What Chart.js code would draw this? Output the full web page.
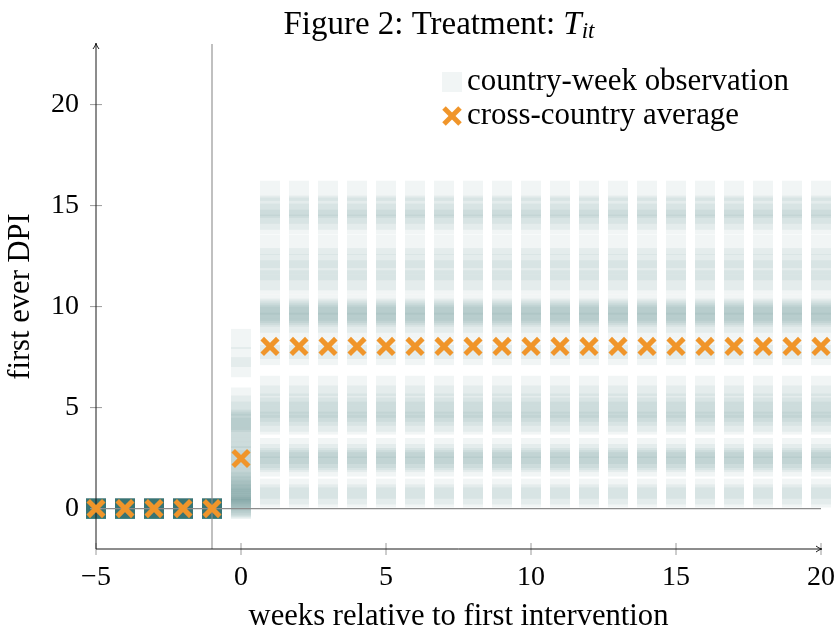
<!DOCTYPE html>
<html>
<head>
<meta charset="utf-8">
<script src="https://cdn.jsdelivr.net/npm/chart.js@4.4.1/dist/chart.umd.min.js"></script>
<style>html,body{margin:0;padding:0;background:#fff;}canvas{display:block;}</style>
</head>
<body>
<canvas id="c" width="837" height="630"></canvas>
<script>
// ---- data ----
const weeks = [-5,-4,-3,-2,-1,0,1,2,3,4,5,6,7,8,9,10,11,12,13,14,15,16,17,18,19,20];
// 39 countries; before the first intervention every country is at 0
const preValues = [0,0,0,0,0,0,0,0,0,0,0,0,0,0,0,0,0,0,0,0,0,0,0,0,0,0,0,0,0,0,0,0,0,0,0,0,0,0,0];
// week of first intervention (partial week)
const week0Values = [8.4,7.5,7.0,5.5,5.1,4.8,4.5,4.4,4.3,4.2,4.0,3.8,3.5,3.2,3.0,2.8,2.6,2.4,2.2,2.0,1.8,1.6,1.4,1.3,1.2,1.1,1.0,0.9,0.8,0.7,0.6,0.5,0.4,0.3,0.2,0.1,0.1,0.0,0.0];
// weeks 1..20 (value of the first ever DPI, constant afterwards)
const postValues = [15.74,15.0,14.9,14.6,14.3,14.06,13.05,12.4,12.1,11.8,11.3,11.1,10.1,9.9,9.8,9.7,9.6,9.5,9.2,8.9,7.9,7.6,6.08,5.6,5.2,5.0,4.8,4.6,4.3,4.16,3.0,2.7,2.5,2.4,2.3,2.08,0.99,0.7,0.55];
// cross-country average per week
const avgValues = [0,0,0,0,0,2.48,8.03,8.03,8.03,8.03,8.03,8.03,8.03,8.03,8.03,8.03,8.03,8.03,8.03,8.03,8.03,8.03,8.03,8.03,8.03,8.03];
const xTicks = [-5,0,5,10,15,20];
const yTicks = [0,5,10,15,20];
const titleMain = 'Figure 2: Treatment: ';
const xTitle = 'weeks relative to first intervention';
const yTitle = 'first ever DPI';
const legendLabels = ['country-week observation','cross-country average'];

// ---- build points ----
function valuesForWeek(w){ return w < 0 ? preValues : (w === 0 ? week0Values : postValues); }
const obsPoints = [];
weeks.forEach(w => valuesForWeek(w).forEach(v => obsPoints.push({x: w, y: v})));
const avgPoints = weeks.map((w, i) => ({x: w, y: avgValues[i]}));

const SERIF = "'Liberation Serif', 'DejaVu Serif', serif";
const OBS_COLOR = 'rgba(40,100,100,0.065)';
const AVG_COLOR = '#f0952a';
const fmt = v => v < 0 ? '\u2212' + Math.abs(v) : String(v);

function line(ctx, x1, y1, x2, y2){ ctx.beginPath(); ctx.moveTo(x1, y1); ctx.lineTo(x2, y2); ctx.stroke(); }
function fitSize(ctx, text, target, style){
  ctx.font = (style ? style + ' ' : '') + '100px ' + SERIF;
  return 100 * target / ctx.measureText(text).width;
}

const deco = {
  id: 'deco',
  beforeDatasetDraw(chart, args){
    if (args.index !== 1) return;
    const ctx = chart.ctx, a = chart.chartArea, x = chart.scales.x, y = chart.scales.y;
    ctx.save();
    ctx.lineCap = 'butt';
    // zero line and intervention line
    ctx.strokeStyle = '#8c8c8c'; ctx.lineWidth = 1.1;
    const y0 = y.getPixelForValue(0);
    line(ctx, x.getPixelForValue(-5), y0, x.getPixelForValue(20), y0);
    const xm = x.getPixelForValue(-1);
    line(ctx, xm, a.top, xm, a.bottom);
    // tick marks
    ctx.strokeStyle = '#9a9a9a'; ctx.lineWidth = 1;
    yTicks.forEach(v => { const p = y.getPixelForValue(v); line(ctx, a.left - 6, p, a.left + 6, p); });
    xTicks.forEach(v => { const p = x.getPixelForValue(v); line(ctx, p, a.bottom - 6, p, a.bottom + 6); });
    // axes with arrows
    ctx.strokeStyle = '#1a1a1a'; ctx.lineWidth = 1;
    line(ctx, a.left, a.bottom, a.left, a.top);
    line(ctx, a.left, a.bottom, a.right, a.bottom);
    ctx.beginPath();
    ctx.moveTo(a.left - 3, a.top + 5); ctx.quadraticCurveTo(a.left - 0.5, a.top + 2, a.left, a.top - 1);
    ctx.quadraticCurveTo(a.left + 0.5, a.top + 2, a.left + 3, a.top + 5);
    ctx.stroke();
    ctx.beginPath();
    ctx.moveTo(a.right - 5, a.bottom - 3); ctx.quadraticCurveTo(a.right - 2, a.bottom - 0.5, a.right + 1, a.bottom);
    ctx.quadraticCurveTo(a.right - 2, a.bottom + 0.5, a.right - 5, a.bottom + 3);
    ctx.stroke();
    ctx.restore();
  },
  afterDraw(chart){
    const ctx = chart.ctx, a = chart.chartArea;
    ctx.save();
    ctx.fillStyle = '#000';
    ctx.textBaseline = 'middle';
    ctx.textAlign = 'left';
    // title with italic T_it
    ctx.font = '100px ' + SERIF; const w1 = ctx.measureText(titleMain).width;
    ctx.font = 'italic 100px ' + SERIF; const w2 = ctx.measureText('T').width;
    ctx.font = 'italic 70px ' + SERIF; const w3 = ctx.measureText('it').width;
    const tw = 311, s = 100 * tw / (w1 + w2 + w3);
    let tx = 439 - tw / 2; const ty = 25;
    ctx.font = s + 'px ' + SERIF; ctx.fillText(titleMain, tx, ty); tx += w1 * s / 100;
    ctx.font = 'italic ' + s + 'px ' + SERIF; ctx.fillText('T', tx, ty); tx += w2 * s / 100;
    ctx.font = 'italic ' + (0.7 * s) + 'px ' + SERIF; ctx.fillText('it', tx, ty + 0.22 * s);
    // axis titles
    const ls = fitSize(ctx, xTitle, 420, '');
    ctx.font = ls + 'px ' + SERIF;
    ctx.textAlign = 'center';
    ctx.fillText(xTitle, (a.left + a.right) / 2, 617);
    ctx.save();
    ctx.translate(21, (a.top + a.bottom) / 2);
    ctx.rotate(-Math.PI / 2);
    ctx.fillText(yTitle, 0, 0);
    ctx.restore();
    // legend
    const gs = fitSize(ctx, legendLabels[0], 322, '');
    ctx.font = gs + 'px ' + SERIF;
    ctx.textAlign = 'left';
    ctx.fillStyle = OBS_COLOR;
    ctx.fillRect(442, 72, 20, 20);
    ctx.fillStyle = '#000';
    ctx.fillText(legendLabels[0], 467, 82);
    ctx.fillText(legendLabels[1], 467, 116);
    ctx.strokeStyle = AVG_COLOR; ctx.lineWidth = 5;
    const cx = 452, cy = 116, r = 8;
    line(ctx, cx - r, cy - r, cx + r, cy + r);
    line(ctx, cx - r, cy + r, cx + r, cy - r);
    ctx.restore();
  }
};

new Chart(document.getElementById('c'), {
  type: 'scatter',
  data: {
    datasets: [
      { label: legendLabels[0], data: obsPoints, pointStyle: 'rect', pointRadius: 14.14, pointHoverRadius: 14.14,
        backgroundColor: OBS_COLOR, borderWidth: 0, clip: false, order: 2 },
      { label: legendLabels[1], data: avgPoints, pointStyle: 'crossRot', pointRadius: 11, pointHoverRadius: 11,
        borderColor: AVG_COLOR, backgroundColor: AVG_COLOR, borderWidth: 5, clip: false, order: 1 }
    ]
  },
  options: {
    responsive: false, animation: false, devicePixelRatio: 1, events: [],
    layout: { padding: { top: 44, right: 15, left: 0, bottom: 0 } },
    plugins: { legend: { display: false }, tooltip: { enabled: false }, title: { display: false } },
    scales: {
      x: {
        type: 'linear', min: -5, max: 20,
        afterFit(s){ s.height = 81; s.paddingLeft = 0; s.paddingRight = 0; },
        afterBuildTicks(s){ s.ticks = xTicks.map(v => ({ value: v })); },
        grid: { display: false, drawTicks: false }, border: { display: false },
        ticks: { font: { family: SERIF, size: 28 }, color: '#000', padding: 12, maxRotation: 0, autoSkip: false, callback: v => fmt(v) }
      },
      y: {
        type: 'linear', min: -2, max: 23,
        afterFit(s){ s.width = 96; s.paddingTop = 0; s.paddingBottom = 0; },
        afterBuildTicks(s){ s.ticks = yTicks.map(v => ({ value: v })); },
        grid: { display: false, drawTicks: false }, border: { display: false },
        ticks: { font: { family: SERIF, size: 28 }, color: '#000', padding: 17, autoSkip: false, callback: v => fmt(v) }
      }
    }
  },
  plugins: [deco]
});
</script>
</body>
</html>
